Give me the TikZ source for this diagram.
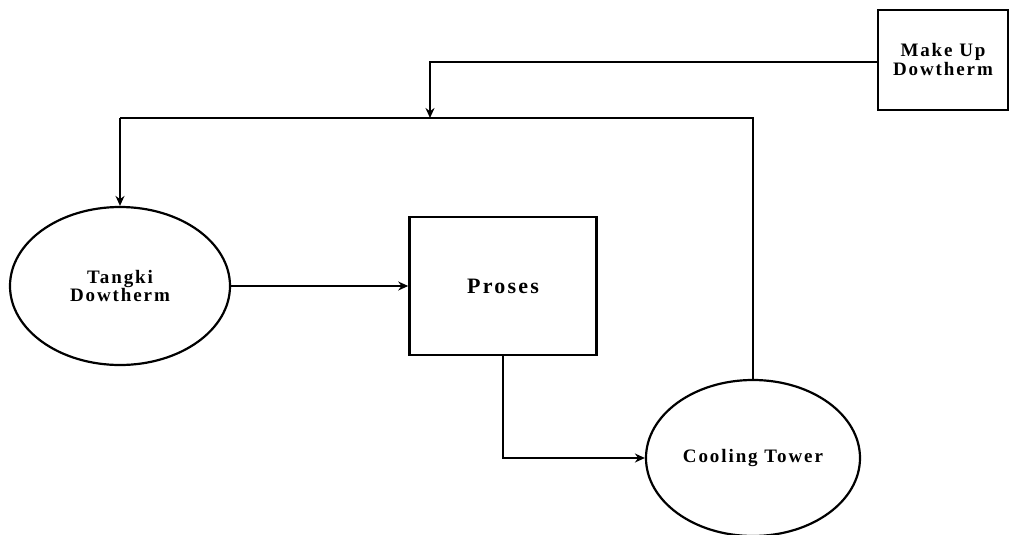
\documentclass[tikz,border=0pt]{standalone}
\usepackage{fontspec}
\setmainfont{Liberation Serif}
\newfontfamily\lblfont[LetterSpace=10]{Liberation Serif}
\usetikzlibrary{shapes.geometric,arrows.meta}
\begin{document}
\begin{tikzpicture}[x=1pt,y=-1pt,
  boxnode/.style={draw,line width=2.6pt,rectangle,inner sep=0pt,align=center},
  ellnode/.style={draw,line width=2.2pt,ellipse,inner sep=0pt,align=center},
  lbl/.style={font=\lblfont\bfseries\fontsize{19}{19}\selectfont},
  flow/.style={line width=2pt,-{Stealth[length=10pt,width=9pt]}},
  pipe/.style={line width=2pt}]
\useasboundingbox (0,0) rectangle (1013,535);
\node[boxnode,minimum width=130pt,minimum height=100pt,lbl] (mk) at (943,60) {Make Up\\Dowtherm};
\node[ellnode,minimum width=220pt,minimum height=158pt,lbl] (tk) at (120,286) {Tangki\\Dowtherm};
\node[boxnode,minimum width=187pt,minimum height=138pt,font=\lblfont\bfseries\fontsize{22}{25}\selectfont] (pr) at (503,286) {Proses};
\node[ellnode,minimum width=214pt,minimum height=156pt,lbl] (ct) at (753,458) {Cooling Tower};
\coordinate (j1) at (430,118);
\coordinate (j2) at (120,118);
\coordinate (j3) at (753,118);
\draw[flow] (mk.west |- 0,62) -| (j1);
\draw[pipe] (ct.north) -- (j3) -- (j2);
\draw[flow] (j2) -- (tk.north);
\draw[flow] (tk.east) -- (pr.west);
\draw[flow] (pr.south) |- (ct.west);
\end{tikzpicture}
\end{document}
